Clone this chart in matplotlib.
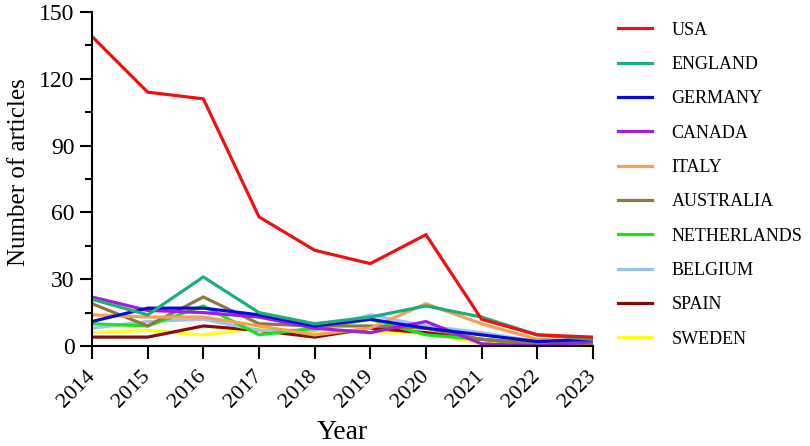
import matplotlib.pyplot as plt
from matplotlib.ticker import MultipleLocator

plt.rcParams['font.family'] = ['Liberation Serif', 'DejaVu Serif']

# Articles per year for the top countries
years = [2014, 2015, 2016, 2017, 2018, 2019, 2020, 2021, 2022, 2023]
countries = ['USA', 'ENGLAND', 'GERMANY', 'CANADA', 'ITALY',
             'AUSTRALIA', 'NETHERLANDS', 'BELGIUM', 'SPAIN', 'SWEDEN']

usa = [139, 114, 111, 58, 43, 37, 50, 12, 5, 4]
england = [21, 14, 31, 15, 10, 13, 18, 13, 5, 3]
germany = [11, 17, 17, 14, 9, 12, 8, 5, 2, 3]
canada = [22, 16, 15, 13, 8, 6, 11, 1, 0, 2]
italy = [14, 13, 13, 9, 5, 8, 19, 10, 3, 2]
australia = [19, 9, 22, 10, 9, 9, 8, 3, 1, 1]
netherlands = [10, 9, 18, 5, 8, 12, 5, 3, 1, 2]
belgium = [8, 11, 12, 7, 7, 14, 9, 6, 2, 2]
spain = [4, 4, 9, 7, 4, 8, 6, 3, 1, 1]
sweden = [6, 7, 5, 8, 6, 6, 6, 1, 1, 1]

series = [usa, england, germany, canada, italy,
          australia, netherlands, belgium, spain, sweden]
colors = ['#f01010', '#1bb07a', '#0a0ad8', '#a01ee0', '#f5a052',
          '#8c7a3c', '#18e618', '#9cc4f2', '#8b0a0a', '#ffff1a']

fig = plt.figure(figsize=(8.1, 4.46), dpi=100)
ax = fig.add_axes([0.1136, 0.2242, 0.6184, 0.7489])

# draw last country first so USA ends up on top
lines = {}
for name, vals, c in reversed(list(zip(countries, series, colors))):
    ln, = ax.plot(years, vals, color=c, lw=2.3, label=name, solid_joinstyle='miter')
    lines[name] = ln

ax.set_xlim(2014, 2023)
ax.set_ylim(0, 150)
ax.set_xticks(years)
ax.set_xticklabels([str(y) for y in years], rotation=45, ha='right', va='center',
                   rotation_mode='anchor', fontsize=16)
ax.yaxis.set_major_locator(MultipleLocator(30))
ax.yaxis.set_minor_locator(MultipleLocator(15))
ax.tick_params(axis='y', labelsize=17)
ax.tick_params(axis='x', pad=11)
ax.tick_params(which='major', direction='out', length=9, width=1.5)
ax.tick_params(which='minor', direction='out', length=5, width=1.5)

for side in ['top', 'right']:
    ax.spines[side].set_visible(False)
for side in ['left', 'bottom']:
    ax.spines[side].set_linewidth(1.5)

ax.set_xlabel('Year', fontsize=20, labelpad=6)
ax.set_ylabel('Number of articles', fontsize=18)
ax.yaxis.set_label_coords(-0.124, 0.52)

handles = [lines[n] for n in countries]
fig.legend(handles, countries, loc='upper left', bbox_to_anchor=(0.752, 0.972),
           frameon=False, fontsize=13, handlelength=1.85, handletextpad=1.1,
           labelspacing=0.96, borderpad=0)

plt.savefig('out.png', dpi=100)
